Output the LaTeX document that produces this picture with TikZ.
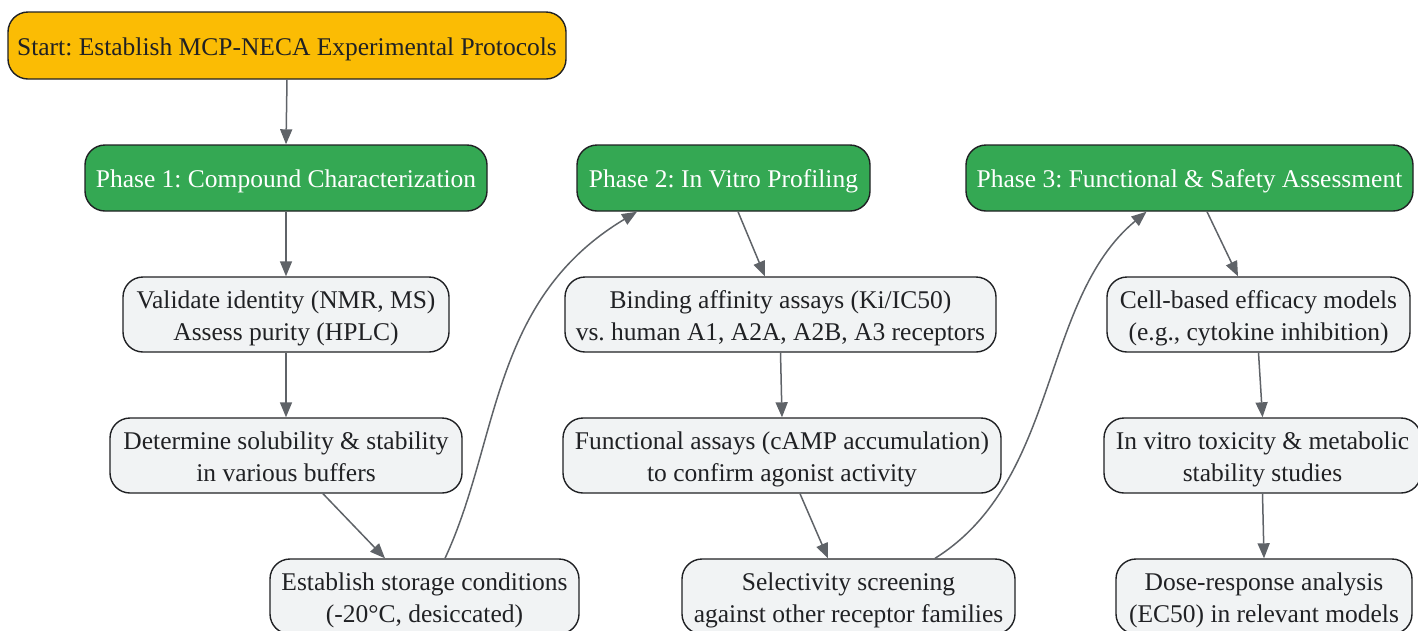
\documentclass[tikz,border=0pt]{standalone}
\usepackage{fontspec}
\setmainfont{Liberation Serif}
\usetikzlibrary{arrows.meta}
\definecolor{startfill}{HTML}{FBBC04}
\definecolor{phasefill}{HTML}{34A853}
\definecolor{stepfill}{HTML}{F1F3F4}
\definecolor{edgecol}{HTML}{202124}
\definecolor{txtcol}{HTML}{202124}
\definecolor{arrowcol}{HTML}{5F6368}
\newcommand{\tstrut}{\rule{0pt}{25pt}}
\newcommand{\bstrut}{\rule[-5pt]{0pt}{5pt}}
\tikzset{
  basebox/.style={draw=edgecol, line width=1.4pt, rounded corners=20pt, align=center,
    inner sep=0pt, font=\fontsize{25.5}{31.5}\selectfont\frenchspacing},
  startbox/.style={basebox, fill=startfill, text=txtcol},
  phasebox/.style={basebox, fill=phasefill, text=white},
  stepbox/.style={basebox, fill=stepfill, text=txtcol},
  link/.style={draw=arrowcol, line width=1.5pt, -{Triangle[length=15pt,width=12pt]}},
}
\begin{document}
\begin{tikzpicture}[x=1pt,y=-1pt]
\useasboundingbox (0,0) rectangle (1418,630);
\node[startbox, minimum width=558pt, minimum height=67pt] (start) at (287,45.5) {\tstrut Start: Establish MCP-NECA Experimental Protocols\bstrut};
\node[phasebox, minimum width=402pt, minimum height=66pt] (p1) at (286,178) {\tstrut Phase 1: Compound Characterization\bstrut};
\node[phasebox, minimum width=293pt, minimum height=66pt] (p2) at (723.5,178) {\tstrut Phase 2: In Vitro Profiling\bstrut};
\node[phasebox, minimum width=447pt, minimum height=66pt] (p3) at (1189.5,178) {\tstrut Phase 3: Functional \& Safety Assessment\bstrut};
\node[stepbox, minimum width=326pt, minimum height=75pt] (val) at (286,314.5) {\tstrut Validate identity (NMR, MS)\\Assess purity (HPLC)\bstrut};
\node[stepbox, minimum width=352pt, minimum height=75pt] (det) at (286,455.5) {\tstrut Determine solubility \& stability\\in various buffers\bstrut};
\node[stepbox, minimum width=309pt, minimum height=75pt] (sto) at (424.5,596.5) {\tstrut Establish storage conditions\\(-20°C, desiccated)\bstrut};
\node[stepbox, minimum width=431pt, minimum height=75pt] (bind) at (780.5,314.5) {\tstrut Binding affinity assays (Ki/IC50)\\vs. human A1, A2A, A2B, A3 receptors\bstrut};
\node[stepbox, minimum width=438pt, minimum height=75pt] (func) at (782,455.5) {\tstrut Functional assays (cAMP accumulation)\\to confirm agonist activity\bstrut};
\node[stepbox, minimum width=333pt, minimum height=75pt] (sel) at (848.5,596.5) {\tstrut Selectivity screening\\against other receptor families\bstrut};
\node[stepbox, minimum width=303pt, minimum height=75pt] (cell) at (1258.5,314.5) {\tstrut Cell-based efficacy models\\(e.g., cytokine inhibition)\bstrut};
\node[stepbox, minimum width=317pt, minimum height=75pt] (vit) at (1262.5,455.5) {\tstrut In vitro toxicity \& metabolic\\stability studies\bstrut};
\node[stepbox, minimum width=296pt, minimum height=75pt] (dose) at (1264,596.5) {\tstrut Dose-response analysis\\(EC50) in relevant models\bstrut};

\draw[link] (start.south) -- (p1.north);
\draw[link] (p1.south) -- (val.north);
\draw[link] (val.south) -- (det.north);
\draw[link] ([xshift=37pt]det.south) -- ([xshift=-39.5pt]sto.north);
\draw[link] ([xshift=20.5pt]sto.north) .. controls (500,440) and (490,300) .. ([xshift=-86.5pt]p2.south);
\draw[link] ([xshift=14.5pt]p2.south) -- ([xshift=-15.5pt]bind.north);
\draw[link] (bind.south) -- (func.north);
\draw[link] ([xshift=18pt]func.south) -- ([xshift=-20.5pt]sel.north);
\draw[link] ([xshift=86.5pt]sel.north) .. controls (1060,480) and (1040,300) .. ([xshift=-43pt]p3.south);
\draw[link] ([xshift=17.5pt]p3.south) -- ([xshift=-20.5pt]cell.north);
\draw[link] (cell.south) -- (vit.north);
\draw[link] (vit.south) -- (dose.north);
\end{tikzpicture}
\end{document}
